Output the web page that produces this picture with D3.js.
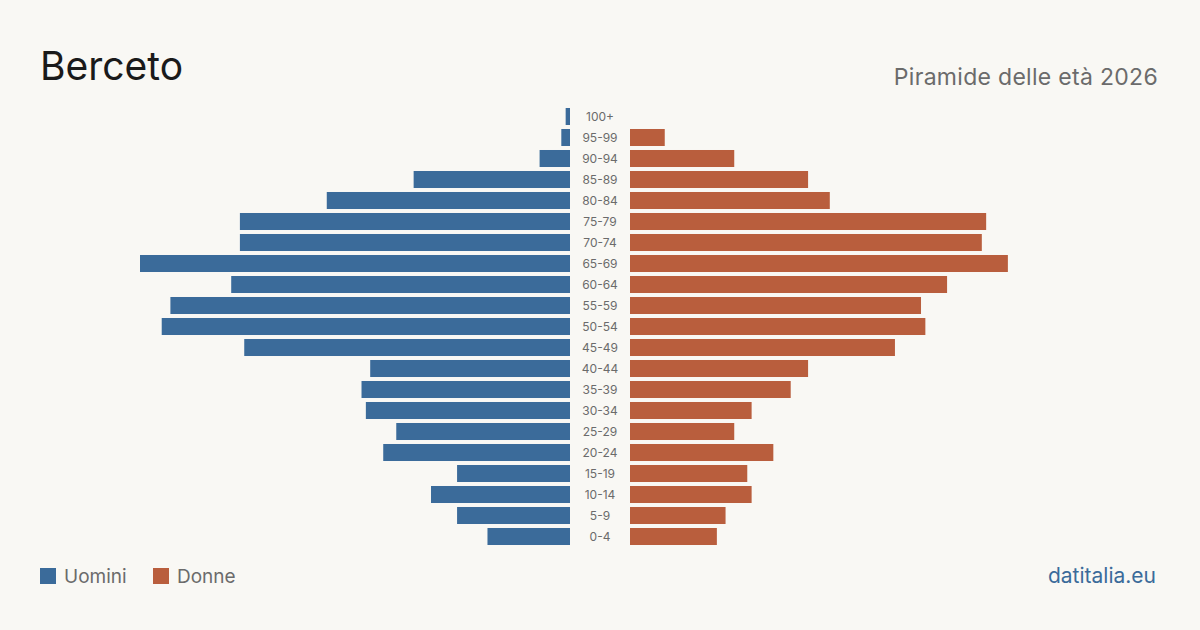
<!DOCTYPE html>
<html>
<head>
<meta charset="utf-8">
<script src="https://cdn.jsdelivr.net/npm/d3@7"></script>
<style>
  body { margin: 0; background: #f9f8f4; }
  text { font-family: Inter, "Noto Sans", sans-serif; }
</style>
</head>
<body>
<div id="chart"></div>
<script>
var ages = ["100+","95-99","90-94","85-89","80-84","75-79","70-74","65-69","60-64","55-59","50-54",
            "45-49","40-44","35-39","30-34","25-29","20-24","15-19","10-14","5-9","0-4"]
var uomini = [1,2,7,36,56,76,76,99,78,92,94,75,46,48,47,40,43,26,32,26,19]
var donne  = [0,8,24,41,46,82,81,87,73,67,68,61,41,37,28,24,33,27,28,22,20]
var legendLabels = ["Uomini","Donne"]

var W = 1200, H = 630
var blue = "#3b6b9a", red = "#b95e3d"

var svg = d3.select("#chart").append("svg").attr("width",W).attr("height",H)
svg.append("rect").attr("width",W).attr("height",H).attr("fill","#f9f8f4")

var y = d3.scaleBand().domain(ages).range([106,547]).paddingInner(0.19).paddingOuter(0.095)
var maxV = d3.max(uomini.concat(donne))
var xl = d3.scaleLinear().domain([0,maxV]).range([570,140])
var xr = d3.scaleLinear().domain([0,maxV]).range([630,1060])

svg.append("g").selectAll("rect").data(ages).enter().append("rect")
    .attr("x",function(d,i){return xl(uomini[i])})
    .attr("y",function(d){return y(d)})
    .attr("width",function(d,i){return xl(0)-xl(uomini[i])})
    .attr("height",y.bandwidth())
    .attr("fill",blue)

svg.append("g").selectAll("rect").data(ages).enter().append("rect")
    .attr("x",xr(0))
    .attr("y",function(d){return y(d)})
    .attr("width",function(d,i){return xr(donne[i])-xr(0)})
    .attr("height",y.bandwidth())
    .attr("fill",red)

svg.append("g").selectAll("text").data(ages).enter().append("text")
    .attr("x",600)
    .attr("y",function(d){return y(d)+y.bandwidth()/2})
    .attr("dy","0.35em")
    .attr("text-anchor","middle")
    .attr("font-size",12)
    .attr("fill","#6b6b6b")
    .text(function(d){return d})

svg.append("text").text("Berceto").attr("x",40).attr("y",80)
    .attr("font-size",39).attr("fill","#1a1a1a")
svg.append("text").text("Piramide delle età 2026").attr("x",1158).attr("y",85)
    .attr("text-anchor","end").attr("font-size",23).attr("letter-spacing",0.3).attr("fill","#6b6b6b")

// legend
var lg = svg.append("g").selectAll("g").data(legendLabels).enter().append("g")
    .attr("transform",function(d,i){return "translate(" + (i==0 ? 40 : 153) + ",568)"})
lg.append("rect").attr("width",16).attr("height",16)
    .attr("fill",function(d,i){return i==0 ? blue : red})
lg.append("text").attr("x",24).attr("y",15).attr("font-size",19).attr("fill","#6b6b6b")
    .text(function(d){return d})

svg.append("text").text("datitalia.eu").attr("x",1156).attr("y",583)
    .attr("text-anchor","end").attr("font-size",21).attr("fill",blue)
</script>
</body>
</html>
